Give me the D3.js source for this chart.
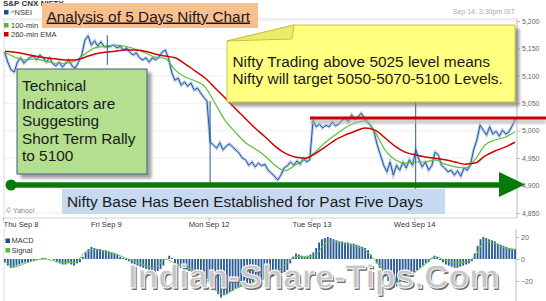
<!DOCTYPE html>
<html><head><meta charset="utf-8">
<script src="https://cdn.jsdelivr.net/npm/d3@7"></script>
<style>html,body{margin:0;padding:0;background:#fff;}svg{display:block;font-family:"Liberation Sans",Arial,sans-serif;}</style>
</head><body><svg id="c" width="546" height="301"></svg>
<script>
// ---------- data ----------
const days = ["Thu Sep 8","Fri Sep 9","Mon Sep 12","Tue Sep 13","Wed Sep 14"];
const priceTicks = [4850,4900,4950,5000,5050,5100,5150,5200];
const macdTicks = [-20,0,20];
const thu = [5143,5125,5111,5107,5125,5133,5123,5129,5134,5136,5129,5138,5133,5125,5133,5122,5118,5125,5116,5123,5129,5118,5114,5125,5138,5165,5173,5156,5164,5154,5162,5153];
const fri = [5153,5154,5156,5151,5154,5147,5151,5143,5138,5142,5133,5129,5133,5125,5133,5129,5134,5143,5147,5133,5107,5092,5096,5083,5089,5081,5087,5074,5078,5069,5061,5054];
const mon = [4979,4974,4968,4978,4965,4972,4976,4970,4965,4959,4950,4947,4937,4943,4934,4941,4936,4939,4928,4923,4917,4910,4919,4932,4936,4943,4937,4945,4939,4950,4943,4947];
const tue = [5019,5007,5012,5005,5010,5007,5016,5009,5012,5019,5023,5016,5029,5021,5025,5032,5023,5016,5009,4998,4974,4956,4937,4925,4943,4919,4937,4928,4943,4932,4947,4937];
const wed = [4965,4947,4934,4943,4928,4937,4961,4956,4937,4932,4925,4928,4919,4927,4917,4932,4928,4937,4965,4983,5010,5001,4992,5007,4994,4999,4990,5001,4994,4998,5009,5021];
const spikeDay = [1,2,4];
const spikeHigh = [5174,5054,5075];
const spikeLow = [5120,4900,4893];
const ma100 = [5143,5134,5129,5131,5127,5123,5123,5127,5140,5151,5154,5156,5154,5149,5142,5134,5132,5111,5098,5091,5080,5050,5019,4998,4979,4967,4954,4937,4927,4937,4947,4961,4978,4992,5005,5014,5018,4998,4965,4947,4941,4943,4943,4947,4939,4934,4932,4947,4974,4983,4988,4998];
const ema260 = [5145,5143,5140,5136,5133,5131,5129,5129,5134,5140,5143,5145,5147,5147,5145,5140,5136,5133,5122,5109,5096,5078,5060,5041,5023,5005,4989,4972,4959,4952,4950,4958,4970,4983,4992,4999,5005,5001,4987,4972,4961,4956,4952,4950,4947,4943,4939,4941,4954,4963,4970,4979];
const levelLine = 5023;
const macd = [-3,-6,-8,-8,-6,-5,-4,-3,-3,-2,-2,-1,0,1,1,0,0,-1,-3,-4,-5,-5,-4,-5,-6,-4,-3,2,6,9,11,10,9,9,8,8,7,6,5,4,2,1,-1,-2,-4,-5,-6,-7,-8,-9,-10,-11,-12,-11,-9,-6,0,3,1,-4,-6,-8,-9,-10,-11,-12,-13,-14,-15,-16,-18,-20,-24,-28,-32,-35,-33,-32,-30,-29,-27,-26,-25,-24,-23,-22,-21,-20,-19,-19,-18,-17,-17,-16,-15,-14,-13,-12,-10,-4,2,5,4,3,2,3,4,6,10,15,18,19,20,19,18,17,16,16,15,15,14,14,13,12,11,10,8,4,0,-4,-8,-12,-16,-20,-24,-26,-25,-23,-20,-18,-16,-14,-12,-10,-8,-6,-4,-3,1,3,2,-1,-3,-5,-6,-7,-8,-8,-7,-6,-5,-4,-2,5,12,18,20,19,18,17,16,14,13,12,11,10,9,9];
const signal = [-2,-7,-4,-1,0,-2,-3,-3,6,9,7,5,1,-2,-6,-8,0,-4,-7,-11,-17,-28,-32,-27,-24,-21,-18,-13,-5,2,2,3,14,16,14,12,8,-1,-12,-21,-18,-12,-5,2,-1,-3,-3,3,16,14,10,9];

// ---------- setup ----------
const svg = d3.select("#c");
const defs = svg.append("defs");
const sh = defs.append("filter").attr("id","sh").attr("x","-10%").attr("y","-10%").attr("width","130%").attr("height","140%");
sh.append("feDropShadow").attr("dx",4).attr("dy",4).attr("stdDeviation",1.8).attr("flood-color","#7a7a7a").attr("flood-opacity",0.7);
defs.append("filter").attr("id","blur").append("feGaussianBlur").attr("stdDeviation",1.2);

const x = d3.scaleLinear().domain([0,5]).range([3,517]);
const y = d3.scaleLinear().domain([4850,5200]).range([213,21]);
const ym = d3.scaleLinear().domain([-20,20]).range([281,237]);
const xi = d3.scaleLinear().domain([0,ma100.length-1]).range([5,515]);
const xb = d3.scaleBand().domain(d3.range(macd.length)).range([4,516]).paddingInner(0.35);

// ---------- frame / grid ----------
const grid = svg.append("g");
grid.selectAll("line.g").data(priceTicks).join("line")
  .attr("x1",4).attr("x2",517).attr("y1",d=>y(d)).attr("y2",d=>y(d))
  .attr("stroke","#f0f0f0");
svg.append("line").attr("x1",3).attr("x2",517).attr("y1",19).attr("y2",19).attr("stroke","#dcdcdc");
svg.append("line").attr("x1",3).attr("x2",517).attr("y1",218).attr("y2",218).attr("stroke","#cfcfcf");
svg.append("line").attr("x1",4).attr("x2",4).attr("y1",19).attr("y2",218).attr("stroke","#dcdcdc");
svg.append("line").attr("x1",4).attr("x2",4).attr("y1",229).attr("y2",301).attr("stroke","#dcdcdc");

// right price axis
const ay = svg.append("g").attr("transform","translate(517,0)")
  .call(d3.axisRight(y).tickValues(priceTicks).tickFormat(d3.format(",")).tickSize(3).tickPadding(2));
ay.select(".domain").remove();
ay.append("line").attr("y1",19).attr("y2",218).attr("stroke","#bbb");
ay.selectAll(".tick line").attr("stroke","#bbb");
ay.selectAll("text").attr("fill","#666").style("font-size","7px").style("font-family","Liberation Sans, Arial");

// date axis
const ax = svg.append("g").attr("transform","translate(0,218)")
  .call(d3.axisBottom(x).tickValues([0,1,2,3,4]).tickFormat(i=>days[i]).tickSize(3));
ax.select(".domain").remove();
ax.selectAll(".tick line").attr("stroke","#bbb");
ax.selectAll("text").attr("y",9).attr("dy",0).attr("fill","#333")
  .style("font-size","7.6px").style("font-family","Liberation Sans, Arial");
ax.selectAll("text").filter(i=>i===0).attr("text-anchor","start").attr("x",0);

// ---------- price & MAs ----------
const allDays = [thu,fri,mon,tue,wed];
const pts = [];
allDays.forEach((arr,d)=>arr.forEach((v,i)=>pts.push([x(d+(i+0.5)/arr.length), y(v)])));
const line = d3.line();
svg.append("path").attr("d",line(pts)).attr("fill","none").attr("stroke","#aec6e6").attr("stroke-width",3).attr("opacity",0.85);
svg.append("path").attr("d",line(pts)).attr("fill","none").attr("stroke","#23599b").attr("stroke-width",1);

const maLine = d3.line().x((d,i)=>xi(i)).y(d=>y(d)).curve(d3.curveMonotoneX);
svg.append("path").attr("d",maLine(ma100)).attr("fill","none").attr("stroke","#5cbf3c").attr("stroke-width",1.2);
svg.append("path").attr("d",maLine(ema260)).attr("fill","none").attr("stroke","#d20000").attr("stroke-width",1.5);

// open spikes
svg.selectAll("line.sp").data(spikeDay).join("line")
  .attr("x1",d=>x(d)+1.5).attr("x2",d=>x(d)+1.5)
  .attr("y1",(d,i)=>y(spikeHigh[i])).attr("y2",(d,i)=>y(spikeLow[i]))
  .attr("stroke","#23599b").attr("stroke-width",1);

// legend
svg.append("text").attr("x",3).attr("y",5.5).text("S&P CNX NIFTY").attr("fill","#333").style("font-size","8px").style("font-weight","bold");
const leg = [["^NSEI","#1f4e8c",14.5],["100-min","#55b935",27.5],["260-min EMA","#cc0000",36.5]];
leg.forEach(([t,c,yy])=>{
  svg.append("rect").attr("x",4).attr("y",yy-4.5).attr("width",4.5).attr("height",4.5).attr("fill",c);
  svg.append("text").attr("x",11).attr("y",yy).text(t).attr("fill","#333").style("font-size","7.5px");
});
svg.append("text").attr("x",515).attr("y",14).attr("text-anchor","end").text("Sep 14, 3:30pm IST")
  .attr("fill","#aaa").style("font-size","7px");
svg.append("text").attr("x",6).attr("y",213).text("© Yahoo!").attr("fill","#888").style("font-size","7px");

// ---------- annotations ----------
// red level line with shadow
svg.append("rect").attr("x",310).attr("y",y(levelLine)+1).attr("width",236).attr("height",5)
  .attr("fill","#b0b0b0").attr("opacity",0.6).attr("filter","url(#blur)");
svg.append("line").attr("x1",310).attr("x2",546).attr("y1",y(levelLine)).attr("y2",y(levelLine))
  .attr("stroke","#cc0000").attr("stroke-width",3);

// orange title box
svg.append("rect").attr("x",42).attr("y",3).attr("width",216).attr("height",25).attr("fill","#fabf8f");
svg.append("text").attr("x",46.5).attr("y",21.5).text("Analysis of 5 Days Nifty Chart")
  .attr("fill","#1a1a1a").attr("text-decoration","underline").style("font-size","15.4px");

// yellow note
svg.append("path").attr("d","M227,41L294,25L515,25L515,102L227,102Z")
  .attr("fill","#ffff80").attr("stroke","#c4c440").attr("stroke-width",1).attr("filter","url(#sh)");
svg.append("path").attr("d","M227,41L294,25L292,39Z").attr("fill","#ecec6c").attr("stroke","#c4c440").attr("stroke-width",1);
svg.append("text").attr("x",232.5).attr("y",66.5).text("Nifty Trading above 5025 level means").attr("fill","#1a1a1a").style("font-size","15.4px");
svg.append("text").attr("x",232.5).attr("y",84).text("Nifty will target 5050-5070-5100 Levels.").attr("fill","#1a1a1a").style("font-size","15.4px");

// green box
svg.append("rect").attr("x",17).attr("y",69).attr("width",130).attr("height",105)
  .attr("fill","#b3df8f").attr("stroke","#3f5f86").attr("stroke-width",1).attr("filter","url(#sh)");
["Technical","Indicators are","Suggesting","Short Term Rally","to 5100"].forEach((t,i)=>{
  svg.append("text").attr("x",22).attr("y",91+i*17.5).text(t).attr("fill","#1a1a1a").style("font-size","15.4px");
});

// arrow
svg.append("line").attr("x1",11).attr("x2",502).attr("y1",185).attr("y2",185).attr("stroke","#087a08").attr("stroke-width",5.5);
svg.append("circle").attr("cx",11).attr("cy",185).attr("r",5.5).attr("fill","#087a08");
svg.append("path").attr("d","M499,172L525,184.5L499,197Z").attr("fill","#087a08");

// blue box
svg.append("rect").attr("x",62).attr("y",189).attr("width",383).attr("height",25).attr("fill","#c6d9f1");
svg.append("text").attr("x",67).attr("y",206.5).text("Nifty Base Has Been Established for Past Five Days").attr("fill","#1a1a1a").style("font-size","15.4px");

// ---------- MACD panel ----------
const am = svg.append("g").attr("transform","translate(516,0)")
  .call(d3.axisRight(ym).tickValues(macdTicks).tickSize(3).tickPadding(2));
am.select(".domain").remove();
am.append("line").attr("y1",229).attr("y2",301).attr("stroke","#bbb");
am.selectAll(".tick line").attr("stroke","#bbb");
am.selectAll("text").attr("fill","#666").style("font-size","7px");

svg.selectAll("rect.bar").data(macd).join("rect").attr("class","bar")
  .attr("x",(d,i)=>xb(i)).attr("width",xb.bandwidth())
  .attr("y",d=>Math.min(ym(0),ym(d))).attr("height",d=>Math.abs(ym(d)-ym(0)))
  .attr("fill","#2b5b98");
svg.append("path").attr("d",d3.line().x((d,i)=>xi(i)).y(d=>ym(d)).curve(d3.curveMonotoneX)(signal))
  .attr("fill","none").attr("stroke","#6cc64a").attr("stroke-width",1);

[["MACD","#1f4e8c",243],["Signal","#55b935",252.5]].forEach(([t,c,yy])=>{
  svg.append("rect").attr("x",5.5).attr("y",yy-4.5).attr("width",4.5).attr("height",4.5).attr("fill",c);
  svg.append("text").attr("x",11.5).attr("y",yy).text(t).attr("fill","#333").style("font-size","7.5px");
});

// watermark
const wm = "Indian-Share-Tips.Com";
svg.append("text").attr("x",129.5).attr("y",289.5).text(wm).attr("fill","#6f6f6f")
  .style("font-size","34px").style("font-weight","bold");
svg.append("text").attr("x",128).attr("y",288).text(wm).attr("fill","#c6c6c6")
  .attr("stroke","#ffffff").attr("stroke-width",0.8)
  .style("font-size","34px").style("font-weight","bold");
</script></body></html>
